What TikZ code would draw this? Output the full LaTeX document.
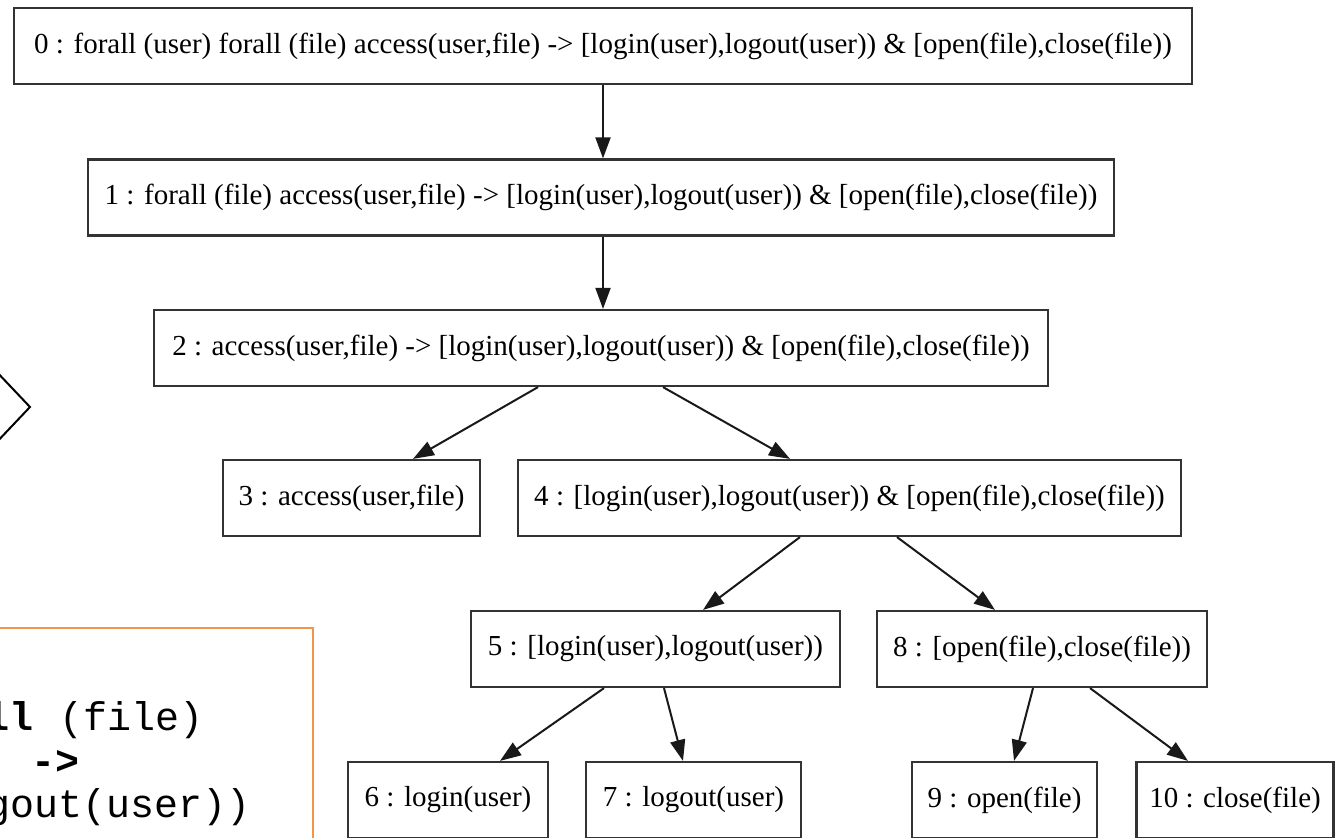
\documentclass[tikz,border=0pt]{standalone}
\usepackage{fontspec}
\setmainfont{Liberation Serif}
\setmonofont{Liberation Mono}
\usetikzlibrary{arrows.meta}
\definecolor{framegray}{gray}{0.2}
\definecolor{codeorange}{RGB}{239,150,72}
\tikzset{
  tree/.style={draw=framegray, line width=2.2pt, inner sep=0pt, minimum height=76pt,
    font=\fontsize{29}{34}\selectfont, text=black},
  link/.style={line width=2pt, draw=black!90,
    -{Triangle[length=21pt,width=15pt]}},
  codeline/.style={anchor=base west, inner sep=0pt, font=\ttfamily\fontsize{40}{44}\selectfont}
}
\begin{document}
\begin{tikzpicture}[x=1pt, y=-1pt]
\useasboundingbox (0,0) rectangle (1337,837);

% formula decomposition tree
\node[tree, minimum width=1178pt] (n0) at (603,46)
  {0 : forall (user) forall (file) access(user,file) -> [login(user),logout(user)) \& [open(file),close(file))};
\node[tree, minimum width=1026pt] (n1) at (601,197.5)
  {1 : forall (file) access(user,file) -> [login(user),logout(user)) \& [open(file),close(file))};
\node[tree, minimum width=894pt] (n2) at (601,348)
  {2 : access(user,file) -> [login(user),logout(user)) \& [open(file),close(file))};
\node[tree, minimum width=257pt] (n3) at (351.5,498) {3 : access(user,file)};
\node[tree, minimum width=663pt] (n4) at (849.5,498)
  {4 : [login(user),logout(user)) \& [open(file),close(file))};
\node[tree, minimum width=369pt] (n5) at (655.5,649) {5 : [login(user),logout(user))};
\node[tree, minimum width=330pt] (n8) at (1042,649) {8 : [open(file),close(file))};
\node[tree, minimum width=200pt] (n6) at (448,800) {6 : login(user)};
\node[tree, minimum width=215pt] (n7) at (693.5,800) {7 : logout(user)};
\node[tree, minimum width=185pt] (n9) at (1004.5,800) {9 : open(file)};
\node[tree, minimum width=197pt] (n10) at (1235,800) {10 : close(file)};

\draw[link] (n0.south) -- ([xshift=2pt]n1.north);
\draw[link] ([xshift=2pt]n1.south) -- ([xshift=2pt]n2.north);
\draw[link] ([xshift=-63pt]n2.south) -- ([xshift=61.5pt]n3.north);
\draw[link] ([xshift=62pt]n2.south) -- ([xshift=-59.5pt]n4.north);
\draw[link] ([xshift=-49.5pt]n4.south) -- ([xshift=47.5pt]n5.north);
\draw[link] ([xshift=47.5pt]n4.south) -- ([xshift=-47pt]n8.north);
\draw[link] ([xshift=-51.5pt]n5.south) -- ([xshift=52pt]n6.north);
\draw[link] ([xshift=8.5pt]n5.south) -- ([xshift=-10.5pt]n7.north);
\draw[link] ([xshift=-9pt]n8.south) -- ([xshift=9.5pt]n9.north);
\draw[link] ([xshift=48pt]n8.south) -- ([xshift=-47pt]n10.north);

% chevron at the left margin
\coordinate (chevtop) at (-6,369);
\coordinate (chevtip) at (30,407);
\coordinate (chevbot) at (-6,445);
\draw[line width=2pt, line join=miter] (chevtop) -- (chevtip) -- (chevbot);

% code panel at the lower left
\coordinate (panelbl) at (-10,850);
\coordinate (paneltr) at (313,628);
\draw[codeorange, line width=2pt] (panelbl) |- (paneltr) -- (paneltr |- panelbl);
\node[codeline] (c1) at (-15,730) {\textbf{ll}\hspace{2pt} (file)};
\node[codeline] (c2) at (31,774) {\textbf{->}};
\node[codeline] (c3) at (-14,817) {gout(user))};
\end{tikzpicture}
\end{document}
